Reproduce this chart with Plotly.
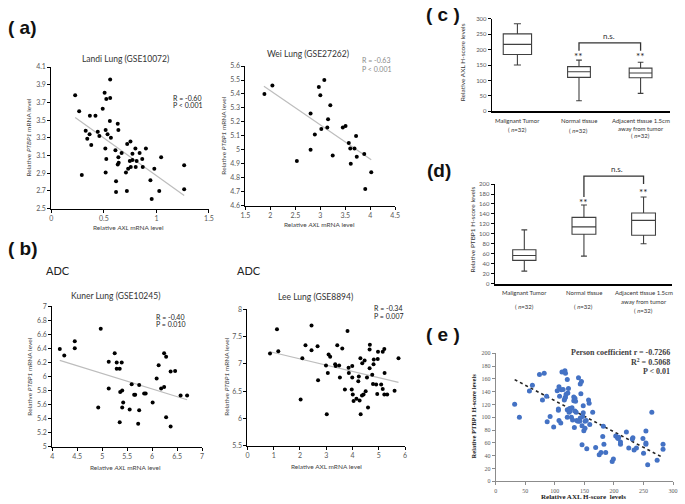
import plotly.graph_objects as go

W, H = 685, 504

# ---------------- data ----------------
# (a) Landi Lung (GSE10072)
landi_axl = [0.227, 0.265, 0.29, 0.367, 0.42, 0.327, 0.342, 0.364, 0.38, 0.442,
             0.457, 0.489, 0.507, 0.523, 0.56, 0.56, 0.557, 0.517, 0.535, 0.567,
             0.514, 0.523, 0.517, 0.632, 0.638, 0.61, 0.638, 0.669, 0.632, 0.641,
             0.616, 0.616, 0.722, 0.753, 0.772, 0.80, 0.747, 0.772, 0.731, 0.756,
             0.71, 0.719, 0.803, 0.812, 0.84, 0.865, 0.87, 0.90, 0.943, 0.98,
             0.955, 1.045, 1.027, 1.264, 1.264]
landi_ptbp1 = [3.78, 3.60, 2.88, 3.55, 3.55, 3.38, 3.29, 3.34, 3.22, 3.37,
               3.32, 3.63, 3.81, 3.74, 3.96, 3.75, 3.49, 3.39, 3.34, 3.30,
               3.18, 3.06, 2.91, 3.46, 3.39, 3.16, 3.08, 3.13, 3.00, 3.02,
               2.81, 2.69, 3.23, 3.26, 3.12, 3.18, 3.04, 3.05, 2.95, 2.97,
               2.91, 2.70, 2.97, 3.04, 3.13, 3.06, 2.97, 3.18, 2.82, 2.95,
               2.61, 3.08, 2.70, 2.99, 2.72]
landi_fit_x = [0.227, 1.264]
landi_fit_y = [3.53, 2.65]

# (a) Wei Lung (GSE27262)
wei_axl = [1.88, 2.04, 2.53, 2.805, 2.805, 2.89, 2.97, 3.00, 3.08, 3.02, 3.155, 3.14, 3.20,
           3.248, 3.45, 3.505, 3.57, 3.60, 3.61, 3.684, 3.716, 3.73, 3.88, 3.90, 4.02]
wei_ptbp1 = [5.40, 5.46, 4.92, 5.26, 5.00, 5.11, 5.45, 5.39, 5.50, 5.15, 5.22, 5.16, 5.32,
             4.96, 5.16, 5.17, 5.05, 5.01, 4.90, 5.01, 5.10, 4.95, 4.97, 4.72, 4.84]
wei_fit_x = [1.87, 4.02]
wei_fit_y = [5.456, 4.93]

# (b) Kuner Lung (GSE10245)
kuner_axl = [4.15, 4.24, 4.45, 4.45, 4.92, 4.97, 5.13, 5.13, 5.25, 5.29,
             5.29, 5.35, 5.39, 5.35, 5.36, 5.40, 5.40, 5.42, 5.55, 5.59,
             5.64, 5.66, 5.74, 5.74, 5.72, 5.84, 5.87, 6.01, 6.09, 6.13,
             6.18, 6.24, 6.24, 6.28, 6.28, 6.37, 6.37, 6.46, 6.57, 6.70]
kuner_ptbp1 = [6.39, 6.30, 6.50, 6.40, 5.56, 6.68, 6.21, 5.83, 6.33, 6.20,
               6.11, 6.11, 6.20, 5.35, 5.78, 5.80, 5.56, 5.63, 5.53, 5.89,
               5.74, 5.74, 5.88, 5.52, 5.33, 5.76, 5.76, 5.63, 5.97, 6.16,
               5.83, 5.85, 6.33, 6.28, 5.42, 6.07, 5.29, 6.08, 5.73, 5.73]
kuner_fit_x = [4.15, 6.70]
kuner_fit_y = [6.23, 5.67]

# (b) Lee Lung (GSE8894)
lee_axl = [0.86, 1.125, 1.175, 2.025, 2.09, 2.21, 2.44, 2.44, 2.67, 2.69,
           2.99, 3.02, 3.06, 3.09, 3.15, 3.34, 3.36, 3.42, 3.49, 3.52,
           3.61, 3.71, 3.81, 3.85, 3.86, 3.99, 3.99, 3.97, 4.01, 4.04,
           4.15, 4.22, 4.24, 4.27, 4.30, 4.37, 4.36, 4.31, 4.42, 4.46,
           4.50, 4.55, 4.59, 4.65, 4.65, 4.66, 4.75, 4.78, 4.80, 4.81,
           4.90, 4.94, 4.96, 4.97, 5.09, 5.15, 5.15, 5.21, 5.22, 5.21,
           5.32, 5.60, 5.75]
lee_ptbp1 = [7.19, 7.63, 7.23, 6.35, 7.10, 7.34, 7.70, 7.25, 7.32, 6.70,
             6.97, 6.08, 6.83, 7.17, 7.13, 6.99, 6.96, 7.34, 6.97, 6.75,
             7.28, 6.53, 7.60, 6.93, 6.83, 6.96, 6.75, 6.53, 6.44, 6.32,
             6.36, 6.68, 6.77, 6.33, 7.10, 7.01, 6.42, 6.08, 6.44, 7.06,
             6.50, 6.75, 6.20, 6.92, 7.26, 7.35, 6.80, 6.63, 6.99, 7.08,
             6.62, 6.45, 7.09, 7.22, 6.62, 6.54, 7.22, 7.27, 6.83, 6.44,
             6.44, 6.51, 7.10]
lee_fit_x = [0.86, 5.75]
lee_fit_y = [7.22, 6.66]

# (c) / (d) box summaries
groups = ["Malignant Tumor", "Normal tissue", "Adjacent tissue 1.5cm away from tumor"]
group_labels = [["Malignant Tumor", "( <i>n</i>=32)"],
                ["Normal tissue", "( <i>n</i>=32)"],
                ["Adjacent tissue 1.5cm", "away from tumor", "( <i>n</i>=32)"]]
axl_low = [150, 34, 58]
axl_q1 = [184, 110, 109]
axl_med = [217, 128, 124]
axl_q3 = [251, 145, 140]
axl_high = [284, 166, 159]
axl_stars = [178, 178]
axl_bracket = [196, 222, 222, 196]
axl_ns = 244

ptbp1_low = [25, 55, 80]
ptbp1_q1 = [46.5, 99, 97]
ptbp1_med = [56.5, 114, 127]
ptbp1_q3 = [68, 133, 142]
ptbp1_high = [108, 158, 174]
ptbp1_stars = [164, 185]
ptbp1_bracket = [174, 216, 216, 200]
ptbp1_ns = 230

# (e) H-score correlation
axl_h = [32, 40, 57, 62, 74, 82, 79, 86, 87, 92,
         98, 104, 106, 106, 107, 108, 107, 110, 111, 112,
         114, 116, 117, 117, 118, 118, 119, 121, 121, 121,
         122, 123, 124, 125, 126, 128, 129, 130, 132, 132,
         133, 134, 134, 135, 136, 137, 139, 140, 142, 143,
         143, 144, 145, 146, 146, 147, 148, 148, 149, 151,
         151, 153, 154, 157, 158, 159, 164, 169, 175, 178,
         181, 182, 183, 186, 197, 199, 203, 206, 207, 208,
         211, 211, 221, 225, 231, 232, 234, 238, 249, 250,
         254, 254, 254, 257, 264, 273, 283, 283]
ptbp1_h = [120.5, 100, 141, 150, 167, 169, 127, 133, 93, 101.5,
           85, 141.5, 113, 111, 148, 133, 95, 91, 143, 171,
           143.5, 127, 173, 130, 169, 132, 136, 159, 112, 100,
           138, 145, 108, 114, 110, 100, 115, 96, 126, 132,
           84, 130, 110, 125, 108, 95, 94, 162, 94, 99,
           152, 137, 156, 87, 57, 101.5, 107, 118, 79, 83,
           94, 95, 51, 127, 122, 89, 108, 53, 41.5, 45,
           70, 86, 58, 45, 31, 35, 71, 68, 67, 69,
           58, 61.5, 77, 52, 66, 68, 49, 52, 67, 44,
           78.5, 60, 58, 26, 108, 33, 58, 50]
h_fit_x = [32, 283]
h_fit_y = [159, 37]

# ---------------- helpers ----------------
SANS = "Lato, Carlito, 'Liberation Sans', sans-serif"
SERIF = "'Liberation Serif', 'DejaVu Serif', serif"
TICKC = "#595959"


def fx(p):
    return p / W


def fy(p):
    return 1 - p / H


def dom_x(a, b):
    return [fx(a), fx(b)]


def dom_y(top, bottom):
    return [fy(bottom), fy(top)]


fig = go.Figure()


def axis(domain, rng, dtick, tick0, anchor, linecolor="#000", ticklabels=True,
         ticks="outside", fontsize=7, family=SANS, lw=1):
    return dict(domain=domain, range=rng, dtick=dtick, tick0=tick0, anchor=anchor,
                showline=True, linecolor=linecolor, linewidth=lw, ticks=ticks,
                ticklen=3, tickwidth=1, tickcolor=linecolor, showgrid=False,
                zeroline=False, showticklabels=ticklabels,
                tickfont=dict(size=fontsize, color=TICKC, family=family))


def scatter_panel(n, xs, ys, fitx, fity):
    xa = "x" if n == 1 else f"x{n}"
    ya = "y" if n == 1 else f"y{n}"
    fig.add_trace(go.Scatter(x=fitx, y=fity, mode="lines", xaxis=xa, yaxis=ya,
                             line=dict(color="#bdbdbd", width=1.2), showlegend=False,
                             hoverinfo="skip"))
    fig.add_trace(go.Scatter(x=xs, y=ys, mode="markers", xaxis=xa, yaxis=ya,
                             marker=dict(color="#000", size=4), showlegend=False))


scatter_panel(1, landi_axl, landi_ptbp1, landi_fit_x, landi_fit_y)
scatter_panel(2, wei_axl, wei_ptbp1, wei_fit_x, wei_fit_y)
scatter_panel(3, kuner_axl, kuner_ptbp1, kuner_fit_x, kuner_fit_y)
scatter_panel(4, lee_axl, lee_ptbp1, lee_fit_x, lee_fit_y)

# pixel domains of box panels (top, bottom) and their y ranges
BOX_DOM = {5: (14, 108, 300), 6: (182, 283, 200)}
shapes = []
anns = []


def ann(text, x, y, size=7, color="#333", xanchor="center", angle=0,
        family=SANS, xref="paper", ypaper=None):
    anns.append(dict(text=text, x=x if xref != "paper" else fx(x),
                     y=fy(y) if ypaper is None else ypaper,
                     xref=xref, yref="paper", xanchor=xanchor, yanchor="middle",
                     showarrow=False, textangle=angle,
                     font=dict(size=size, color=color, family=family)))


def yval_to_paper(n, v):
    top, bottom, ymax = BOX_DOM[n]
    d0, d1 = fy(bottom), fy(top)
    return d0 + v / ymax * (d1 - d0)


def box_panel(n, low, q1, med, q3, high, widths, stars, bracket, ns_y, ns_x):
    xa, ya = f"x{n}", f"y{n}"
    for i in range(len(groups)):
        fig.add_trace(go.Box(x=[i], q1=[q1[i]], median=[med[i]], q3=[q3[i]],
                             lowerfence=[low[i]], upperfence=[high[i]],
                             xaxis=xa, yaxis=ya, width=widths[i], whiskerwidth=0.25,
                             fillcolor="#fff", line=dict(color="#404040", width=1.1),
                             showlegend=False, name=groups[i], boxpoints=False))
    bx = [1, 1, 2, 2]
    path = "M " + " L ".join(f"{bx[k]},{yval_to_paper(n, bracket[k])}" for k in range(4))
    shapes.append(dict(type="path", path=path, xref=xa, yref="paper",
                       line=dict(color="#333", width=1.3)))
    for k, s in enumerate(stars):
        ann("**", 1 + k, None, size=10, color="#222", xref=xa,
            ypaper=yval_to_paper(n, s))
    ann("n.s.", ns_x, None, size=8, color="#333", xref=xa,
        ypaper=yval_to_paper(n, ns_y))


box_panel(5, axl_low, axl_q1, axl_med, axl_q3, axl_high, [0.46, 0.37, 0.37],
          axl_stars, axl_bracket, axl_ns, 1.48)
box_panel(6, ptbp1_low, ptbp1_q1, ptbp1_med, ptbp1_q3, ptbp1_high, [0.39, 0.40, 0.40],
          ptbp1_stars, ptbp1_bracket, ptbp1_ns, 1.55)

fig.add_trace(go.Scatter(x=h_fit_x, y=h_fit_y, mode="lines", xaxis="x7", yaxis="y7",
                         line=dict(color="#222", width=1.6, dash="dot"), showlegend=False,
                         hoverinfo="skip"))
fig.add_trace(go.Scatter(x=axl_h, y=ptbp1_h, mode="markers", xaxis="x7", yaxis="y7",
                         marker=dict(color="#4472C4", size=5), showlegend=False))

eps = 1e-4
fig.update_layout(
    xaxis=axis(dom_x(47, 207), [0, 1.5 + eps], 0.5, 0, "y"),
    yaxis=axis(dom_y(63, 207), [2.5 - eps, 4.1 + eps], 0.2, 2.5, "x"),
    xaxis2=axis(dom_x(244, 396), [1.5, 4.5 + eps], 0.5, 1.5, "y2"),
    yaxis2=axis(dom_y(62, 204), [4.6 - eps, 5.6 + eps], 0.1, 4.6, "x2"),
    xaxis3=axis(dom_x(48, 200), [4, 7 + eps], 0.5, 4, "y3"),
    yaxis3=axis(dom_y(306, 449), [5 - eps, 7 + eps], 0.2, 5, "x3"),
    xaxis4=axis(dom_x(246, 406), [0, 6 + eps], 1, 0, "y4"),
    yaxis4=axis(dom_y(309, 448), [5.5 - eps, 8 + eps], 0.5, 5.5, "x4"),
    xaxis5=axis(dom_x(494, 675), [-0.416, 2.48], 1, 0, "y5", ticklabels=False,
                ticks="", lw=1.6),
    yaxis5=axis(dom_y(14, 108), [0, 300 + eps], 50, 0, "x5", fontsize=6),
    xaxis6=axis(dom_x(497, 677), [-0.496, 2.479], 1, 0, "y6", ticklabels=False,
                ticks="", lw=1.6),
    yaxis6=axis(dom_y(182, 283), [0, 200 + eps], 20, 0, "x6", fontsize=6),
    xaxis7=axis(dom_x(498, 678), [0, 300 + eps], 50, 0, "y7", linecolor="#8c8c8c",
                fontsize=6, family=SERIF),
    yaxis7=axis(dom_y(354, 484), [0, 200 + eps], 20, 0, "x7", linecolor="#8c8c8c",
                fontsize=6, family=SERIF),
)

# panel labels
LBL = "'Liberation Sans', Arial, sans-serif"
ann("<b>( a)</b>", 1, 23, size=19, color="#111", xanchor="left", family=LBL)
ann("<b>( b)</b>", 1, 247, size=19, color="#111", xanchor="left", family=LBL)
ann("<b>( c )</b>", 425, 10, size=19, color="#111", xanchor="left", family=LBL)
ann("<b>(d)</b>", 426, 168, size=19, color="#111", xanchor="left", family=LBL)
ann("<b>( e )</b>", 425, 335, size=19, color="#111", xanchor="left", family=LBL)
ann("ADC", 40, 270, size=11, color="#222", xanchor="left")
ann("ADC", 233, 270, size=11, color="#222", xanchor="left")

# scatter titles
ann("Landi Lung (GSE10072)", 122, 55, size=8.5)
ann("Wei Lung (GSE27262)", 307, 50, size=8.5)
ann("Kuner Lung (GSE10245)", 112, 296, size=8.5)
ann("Lee Lung (GSE8894)", 315, 297, size=8.5)

# stats
ann("R = -0.60", 168, 94, size=7, color="#222", xanchor="left")
ann("P < 0.001", 168, 102, size=7, color="#222", xanchor="left")
ann("R = -0.63", 360, 56, size=7, color="#8a8a8a", xanchor="left")
ann("P < 0.001", 360, 65, size=7, color="#8a8a8a", xanchor="left")
ann("R = -0.40", 151, 317, size=7, color="#222", xanchor="left")
ann("P = 0.010", 151, 324, size=7, color="#222", xanchor="left")
ann("R = -0.34", 372, 308, size=7, color="#222", xanchor="left")
ann("P = 0.007", 372, 316, size=7, color="#222", xanchor="left")

# axis titles
ytitle = "Relative <i>PTBP1</i> mRNA level"
ann("Relative <i>AXL</i> mRNA level", 125, 226, size=6.5, color="#444")
ann(ytitle, 24, 135, size=6.5, color="#444", angle=-90)
ann("Relative <i>AXL</i> mRNA level", 319, 223, size=6.5, color="#444")
ann(ytitle, 222, 133, size=6.5, color="#444", angle=-90)
ann("Relative <i>AXL</i> mRNA level", 122, 470, size=6.5, color="#444")
ann(ytitle, 24, 378, size=6.5, color="#444", angle=-90)
ann("Relative AXL mRNA level", 326, 469, size=6.5, color="#444")
ann(ytitle, 224, 378, size=6.5, color="#444", angle=-90)

ann("Relative AXL H-score levels", 464, 58, size=6.5, color="#333", angle=-90)
ann("Relative PTBP1 H-score levels", 474, 228, size=6.5, color="#333", angle=-90)
ann("<b>Relative PTBP1 H-score levels</b>", 475, 418, size=6.5, color="#222",
    angle=-90, family=SERIF)
ann("<b>Relative AXL H-score  levels</b>", 587, 500, size=7, color="#222",
    family=SERIF)

# (e) stats
ann("<b>Person coefficient r = -0.7266</b>", 677, 353, size=8, color="#404040",
    xanchor="right", family=SERIF)
ann("<b>R<sup>2</sup> = 0.5068</b>", 677, 363, size=8, color="#404040",
    xanchor="right", family=SERIF)
ann("<b>P < 0.01</b>", 677, 372, size=8, color="#404040", xanchor="right",
    family=SERIF)

# category labels (c) and (d)
c_rows = [[117, 127], [117, 128], [117, 125, 133]]
d_rows = [[292, 306], [292, 306], [292, 301, 310]]
for i, lines in enumerate(group_labels):
    for j, t in enumerate(lines):
        ann(t, i, c_rows[i][j], size=6, color="#333", xref="x5")
        ann(t, i, d_rows[i][j], size=6, color="#333", xref="x6")

fig.update_layout(annotations=anns, shapes=shapes, width=W, height=H,
                  margin=dict(l=0, r=0, t=0, b=0),
                  paper_bgcolor="#fff", plot_bgcolor="rgba(0,0,0,0)",
                  showlegend=False)

fig.write_html("out.html", config={"displayModeBar": False},
               post_script="document.body.style.margin='0';"
                           "document.body.style.overflow='hidden';")
